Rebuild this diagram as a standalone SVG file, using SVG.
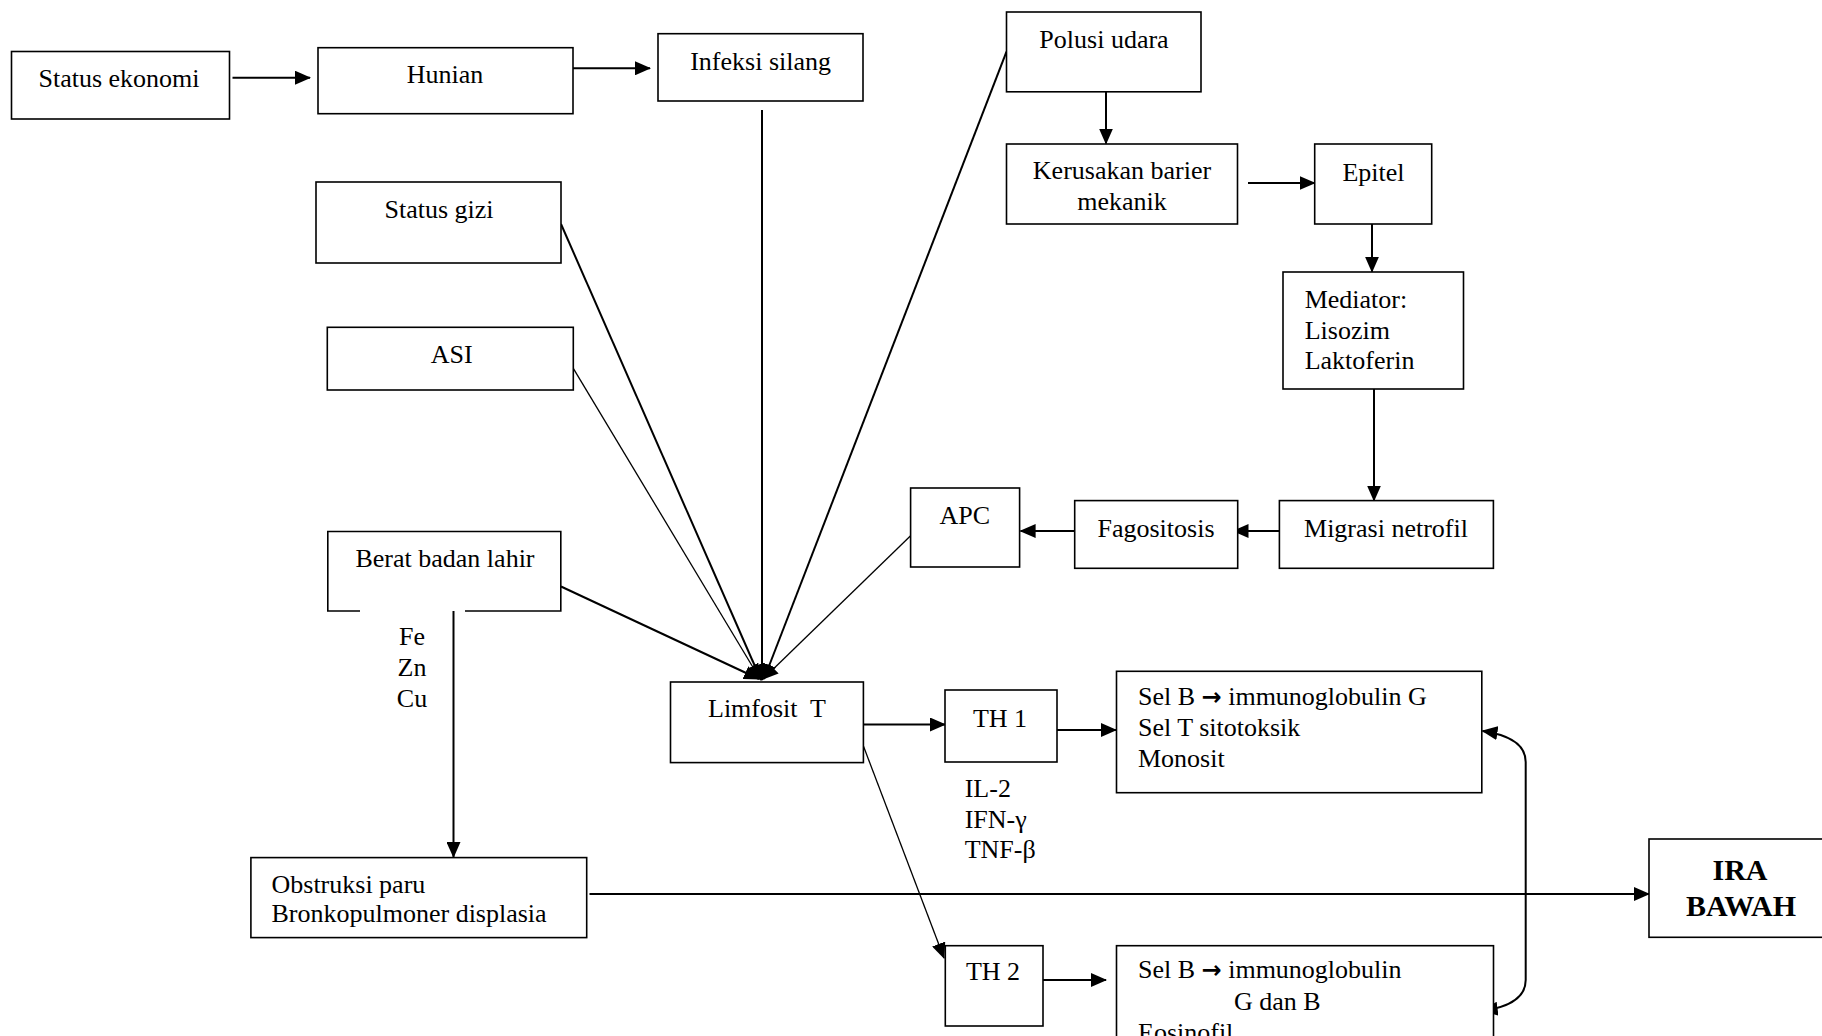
<svg xmlns="http://www.w3.org/2000/svg" width="1822" height="1036" viewBox="0 0 1822 1036">
<style>
.box{fill:#fff;stroke:#000;stroke-width:1.6}
.t{font-family:"Liberation Serif","Times New Roman",serif;font-size:26px;fill:#000}
.c{text-anchor:middle}
.b{font-weight:bold;font-size:30px}
.ar{font-family:"DejaVu Sans",sans-serif;font-weight:bold;font-size:24px}
.ln{fill:none;stroke:#000;stroke-width:2}
.thin{stroke-width:1.3}
</style>
<defs>
<marker id="ah" markerUnits="userSpaceOnUse" markerWidth="16" markerHeight="14" viewBox="0 0 16 14" refX="15" refY="7" orient="auto-start-reverse">
<path d="M0,0 L16,7 L0,14 z" fill="#000"/>
</marker>
</defs>
<rect width="1822" height="1036" fill="#fff"/>
<g id="connectors">
<path class="ln" d="M232.5,77.7 L310,77.7" marker-end="url(#ah)"/>
<path class="ln" d="M573,68.3 L650,68.3" marker-end="url(#ah)"/>
<path class="ln" d="M1106,92 L1106,143.5" marker-end="url(#ah)"/>
<path class="ln" d="M1248,183 L1314.7,183" marker-end="url(#ah)"/>
<path class="ln" d="M1372,224 L1372,271.7" marker-end="url(#ah)"/>
<path class="ln" d="M1374,389 L1374,500.5" marker-end="url(#ah)"/>
<path class="ln" d="M1279,531 L1233.5,531" marker-end="url(#ah)"/>
<path class="ln" d="M1074.7,531 L1020.6,531" marker-end="url(#ah)"/>
<path class="ln" d="M762,110 L762,680" marker-end="url(#ah)"/>
<path class="ln" d="M561,224 L761,680" marker-end="url(#ah)"/>
<path class="ln thin" d="M573.3,368.3 L760,679" marker-end="url(#ah)"/>
<path class="ln" d="M1006.5,51.7 L764,679" marker-end="url(#ah)"/>
<path class="ln thin" d="M910.6,535.8 L763,679" marker-end="url(#ah)"/>
<path class="ln" d="M561,586.5 L759,679" marker-end="url(#ah)"/>
<path class="ln" d="M453.5,611 L453.5,857" marker-end="url(#ah)"/>
<path class="ln" d="M863.4,724.5 L945,724.5" marker-end="url(#ah)"/>
<path class="ln" d="M1054,730 L1116,730" marker-end="url(#ah)"/>
<path class="ln thin" d="M863.4,746 L944,958" marker-end="url(#ah)"/>
<path class="ln" d="M1043,980 L1106,980" marker-end="url(#ah)"/>
<path class="ln" d="M589.5,894 L1649,894" marker-end="url(#ah)"/>
<path class="ln" d="M1482.5,731 C1510,735 1525.7,745 1525.7,762 L1525.7,980 C1525.7,998 1510,1007 1482.7,1010.7" marker-start="url(#ah)" marker-end="url(#ah)"/>
</g>
<g id="status-ekonomi"><rect class="box" x="11.5" y="51.5" width="218" height="67.5"/><text class="t c" x="119" y="87">Status ekonomi</text></g>
<g id="hunian"><rect class="box" x="318" y="47.7" width="255" height="66"/><text class="t c" x="445" y="83">Hunian</text></g>
<g id="infeksi-silang"><rect class="box" x="658" y="33.7" width="205" height="67.3"/><text class="t c" x="760.6" y="70">Infeksi silang</text></g>
<g id="status-gizi"><rect class="box" x="316" y="182" width="245" height="81"/><text class="t c" x="439" y="218">Status gizi</text></g>
<g id="asi"><rect class="box" x="327.3" y="327.3" width="246" height="62.7"/><text class="t c" x="451.7" y="363">ASI</text></g>
<g id="polusi-udara"><rect class="box" x="1006.5" y="12" width="194.5" height="79.8"/><text class="t c" x="1104" y="48">Polusi udara</text></g>
<g id="kerusakan"><rect class="box" x="1006.5" y="144" width="231" height="80"/><text class="t c" x="1122" y="179">Kerusakan barier</text><text class="t c" x="1122" y="210">mekanik</text></g>
<g id="epitel"><rect class="box" x="1314.7" y="144" width="117" height="80"/><text class="t c" x="1373.5" y="181">Epitel</text></g>
<g id="mediator"><rect class="box" x="1283" y="272" width="180.5" height="117"/><text class="t" x="1304.7" y="308">Mediator:</text><text class="t" x="1304.7" y="338.7">Lisozim</text><text class="t" x="1304.7" y="369.3">Laktoferin</text></g>
<g id="migrasi-netrofil"><rect class="box" x="1279.4" y="500.6" width="214" height="67.7"/><text class="t c" x="1386" y="536.5">Migrasi netrofil</text></g>
<g id="fagositosis"><rect class="box" x="1074.7" y="500.6" width="163" height="67.7"/><text class="t c" x="1156" y="536.5">Fagositosis</text></g>
<g id="apc"><rect class="box" x="910.6" y="488" width="109" height="79"/><text class="t c" x="964.7" y="524">APC</text></g>
<g id="berat-badan-lahir"><path class="box" d="M360,611 L327.8,611 L327.8,531.5 L560.8,531.5 L560.8,611 L465,611"/><text class="t c" x="445" y="566.7">Berat badan lahir</text></g>
<g id="fe-zn-cu"><text class="t c" x="412" y="645">Fe</text><text class="t c" x="412" y="675.5">Zn</text><text class="t c" x="412" y="706.5">Cu</text></g>
<g id="limfosit-t"><rect class="box" x="670.5" y="682" width="192.9" height="80.6"/><text class="t c" x="767" y="717" xml:space="preserve">Limfosit  T</text></g>
<g id="th1"><rect class="box" x="945" y="690" width="112" height="72"/><text class="t c" x="1000" y="727">TH 1</text></g>
<g id="th1-cytokines"><text class="t" x="964.7" y="797">IL-2</text><text class="t" x="964.7" y="828">IFN-γ</text><text class="t" x="964.7" y="858">TNF-β</text></g>
<g id="selb-1"><rect class="box" x="1116.5" y="671.3" width="365.3" height="121.4"/><text class="t" x="1138" y="705" xml:space="preserve">Sel B <tspan class="ar">→</tspan> immunoglobulin G</text><text class="t" x="1138" y="736">Sel T sitotoksik</text><text class="t" x="1138" y="767">Monosit</text></g>
<g id="th2"><rect class="box" x="945.3" y="945.7" width="97.7" height="80.3"/><text class="t c" x="993" y="980">TH 2</text></g>
<g id="selb-2"><rect class="box" x="1116.5" y="945.7" width="377" height="110"/><text class="t" x="1138" y="978" xml:space="preserve">Sel B <tspan class="ar">→</tspan> immunoglobulin</text><text class="t" x="1234" y="1010">G dan B</text><text class="t" x="1138" y="1041">Eosinofil</text></g>
<g id="obstruksi"><rect class="box" x="250.9" y="857.6" width="335.8" height="80"/><text class="t" x="271.5" y="892.5">Obstruksi paru</text><text class="t" x="271.5" y="922">Bronkopulmoner displasia</text></g>
<g id="ira-bawah"><rect class="box" x="1649" y="839" width="190" height="98.3"/><text class="t c b" x="1740" y="880">IRA</text><text class="t c b" x="1741" y="916">BAWAH</text></g>
</svg>
